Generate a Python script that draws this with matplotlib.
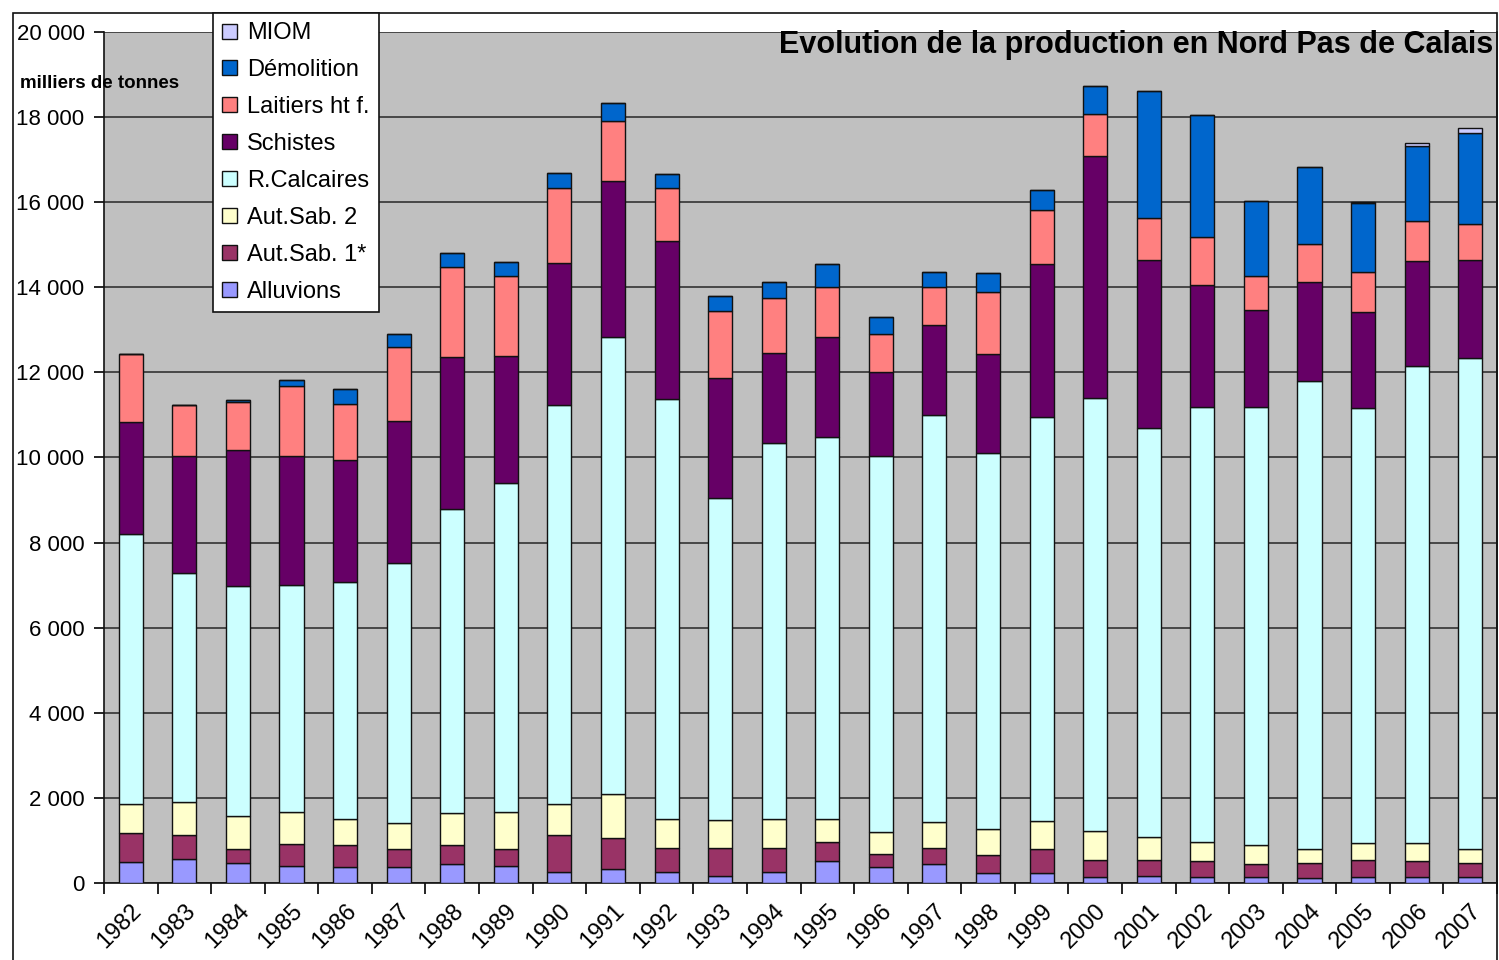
import numpy as np
import matplotlib.pyplot as plt
import matplotlib.transforms as mtransforms
from matplotlib.patches import Rectangle

plt.rcParams['font.family'] = ['Liberation Sans', 'DejaVu Sans']

years = [str(y) for y in range(1982, 2008)]

# milliers de tonnes
alluvions = [490, 560, 480, 400, 380, 380, 450, 400, 270, 340, 270, 170, 270,
             520, 380, 450, 240, 240, 150, 170, 150, 150, 110, 150, 150, 150]
aut_sab1 = [680, 570, 330, 520, 510, 410, 440, 410, 860, 720, 560, 660, 560,
            450, 300, 380, 420, 550, 400, 380, 370, 300, 370, 400, 370, 330]
aut_sab2 = [680, 780, 760, 760, 610, 610, 750, 860, 720, 1020, 670, 650, 670,
            530, 520, 610, 610, 670, 680, 540, 450, 440, 330, 400, 430, 330]
r_calcaires = [6350, 5375, 5410, 5330, 5575, 6130, 7140, 7720, 9385, 10760, 9865,
               7575, 8845, 8990, 8840, 9560, 8840, 9500, 10175, 9595, 10225,
               10305, 10995, 10220, 11205, 11520]
schistes = [2635, 2755, 3195, 3030, 2865, 3335, 3575, 3000, 3345, 3665, 3725,
            2805, 2120, 2350, 1975, 2115, 2320, 3580, 5685, 3955, 2860, 2270,
            2330, 2240, 2455, 2310]
laitiers = [1595, 1205, 1130, 1635, 1325, 1725, 2120, 1875, 1760, 1405, 1250,
            1590, 1295, 1175, 885, 900, 1450, 1275, 990, 995, 1135, 800, 885,
            955, 950, 855]
demolition = [0, 0, 40, 140, 345, 310, 330, 330, 340, 415, 315, 345, 370, 525,
              410, 350, 465, 465, 650, 2985, 2860, 1770, 1800, 1605, 1770, 2140]
miom = [0, 0, 0, 0, 0, 0, 0, 0, 0, 0, 0, 0, 0, 0, 0, 0, 0, 0, 0, 0, 0, 0, 0,
        30, 70, 100]

series = [
    ('Alluvions', alluvions, '#9999FF'),
    ('Aut.Sab. 1*', aut_sab1, '#993366'),
    ('Aut.Sab. 2', aut_sab2, '#FFFFCC'),
    ('R.Calcaires', r_calcaires, '#CCFFFF'),
    ('Schistes', schistes, '#660066'),
    ('Laitiers ht f.', laitiers, '#FF8080'),
    ('Démolition', demolition, '#0066CC'),
    ('MIOM', miom, '#CCCCFF'),
]

W, H = 1499, 960
fig = plt.figure(figsize=(W / 100, H / 100), dpi=100)
ax = fig.add_axes([104 / W, 1 - 883 / H, (1497 - 104) / W, (883 - 32) / H])
ax.set_facecolor('#C0C0C0')

x = np.arange(len(years))
bottom = np.zeros(len(years))
handles = []
for name, vals, col in series:
    vals = np.array(vals, dtype=float)
    b = ax.bar(x, vals, width=0.45, bottom=bottom, color=col,
               edgecolor='#111111', linewidth=1.0, label=name, zorder=3)
    handles.append(b)
    bottom += vals

ax.set_xlim(-0.5, len(years) - 0.5)
ax.set_ylim(0, 20000)

yt = np.arange(0, 20001, 2000)
ax.set_yticks(yt)
ax.set_yticklabels([f'{v:,}'.replace(',', ' ') for v in yt], fontsize=16)
ax.yaxis.grid(True, color='#333333', linewidth=1.2, zorder=1)
ax.set_axisbelow(True)
ax.tick_params(axis='y', direction='out', length=7, width=1.2, pad=7)

ax.set_xticks(x)
ax.set_xticklabels(years, fontsize=17, rotation=45, ha='right', va='top',
                   rotation_mode='anchor')
shift = mtransforms.ScaledTranslation(-0.15, -0.03, fig.dpi_scale_trans)
for lab in ax.get_xticklabels():
    lab.set_transform(lab.get_transform() + shift)
ax.set_xticks(np.arange(-0.5, len(years), 1), minor=True)
ax.tick_params(axis='x', which='major', length=0, pad=12)
ax.tick_params(axis='x', which='minor', direction='out', length=8, width=1.2)

for s in ['left', 'bottom', 'right']:
    ax.spines[s].set_color('#111111')
    ax.spines[s].set_linewidth(1.2)
ax.spines['top'].set_visible(False)

fig.text(1493 / W, 1 - 45 / H, 'Evolution de la production en Nord Pas de Calais',
         ha='right', va='center', fontsize=22, fontweight='bold')
fig.text(20 / W, 1 - 83 / H, 'milliers de tonnes', ha='left', va='center',
         fontsize=13.5, fontweight='bold')

# outer chart frame
fig.patches.append(Rectangle((13 / W, -0.1), (1497 - 13) / W, 1.1 - 13 / H,
                             transform=fig.transFigure, fill=False,
                             edgecolor='#111111', linewidth=1.2))

leg = fig.legend(handles[::-1], [s[0] for s in series][::-1],
                 loc='upper left', bbox_to_anchor=(213 / W, 1 - 13 / H),
                 fontsize=17, frameon=True, fancybox=False,
                 edgecolor='#111111', framealpha=1, handlelength=0.6,
                 handleheight=0.6, handletextpad=0.45, labelspacing=0.63,
                 borderpad=0.4, borderaxespad=0)
leg.get_frame().set_linewidth(1.2)

fig.savefig('out.png', dpi=100)
